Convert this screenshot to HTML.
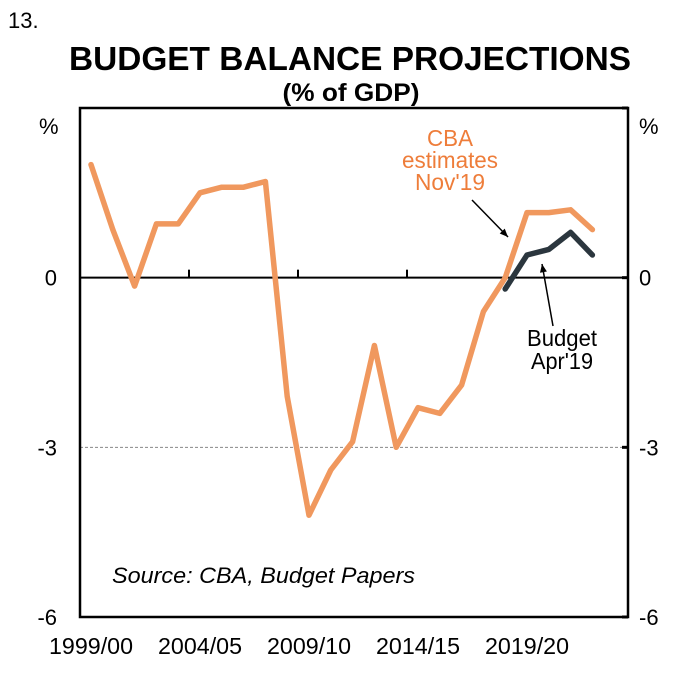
<!DOCTYPE html>
<html><head><meta charset="utf-8"><style>
body{margin:0;background:#fff;}
svg text{font-family:"Liberation Sans",Arial,sans-serif;}
</style></head><body>
<svg width="686" height="671" viewBox="0 0 686 671">
<text x="8" y="28" font-size="22">13.</text>
<text x="350" y="70" font-size="33" font-weight="bold" text-anchor="middle" textLength="562" lengthAdjust="spacingAndGlyphs">BUDGET BALANCE PROJECTIONS</text>
<text x="351" y="101" font-size="25" font-weight="bold" text-anchor="middle" textLength="137" lengthAdjust="spacingAndGlyphs">(% of GDP)</text>
<g id="chart"></g>
</svg>
<script>
const categories=["1999/00","2000/01","2001/02","2002/03","2003/04","2004/05","2005/06","2006/07","2007/08","2008/09","2009/10","2010/11","2011/12","2012/13","2013/14","2014/15","2015/16","2016/17","2017/18","2018/19","2019/20","2020/21","2021/22","2022/23","2023/24"];
const cbaValues=[2.0,0.85,-0.15,0.95,0.95,1.5,1.6,1.6,1.7,-2.1,-4.2,-3.4,-2.9,-1.2,-3.0,-2.3,-2.4,-1.9,-0.6,0.0,1.15,1.15,1.2,0.85];
const budgetValues=[null,null,null,null,null,null,null,null,null,null,null,null,null,null,null,null,null,null,null,-0.2,0.4,0.5,0.8,0.4];
const yTicks=[3,0,-3,-6];
const yTickLabels=["","0","-3","-6"];
const xLabelIdx=[0,5,10,15,20];

const NS="http://www.w3.org/2000/svg";
const L=80,R=628,T=108,B=617,yMin=-6,yMax=3;
const slot=21.8;
const x=i=>L+11+slot*i;
const y=v=>T+(yMax-v)/(yMax-yMin)*(B-T);
const g=document.getElementById('chart');
function mk(t,a,p){const e=document.createElementNS(NS,t);for(const k in a)e.setAttribute(k,a[k]);(p||g).appendChild(e);return e;}

let e=mk('line',{x1:L,x2:R,y1:y(-3),y2:y(-3),stroke:'#888','stroke-width':1,'stroke-dasharray':'3,2'});


e=mk('line',{x1:L,x2:R,y1:y(0),y2:y(0),stroke:'#000','stroke-width':2});


xLabelIdx.slice(1,4).forEach(i=>{
 const tx=x(i)-11;
 const t=mk('line',{x1:tx,x2:tx,y1:y(0),y2:y(0)-8,stroke:'#000','stroke-width':2});
 
 
});
yTicks.forEach(v=>{
 const t=mk('line',{x1:R-6,x2:R,y1:y(v),y2:y(v),stroke:'#000','stroke-width':3});
 
 
});
e=mk('rect',{x:L,y:T,width:R-L,height:B-T,fill:'none',stroke:'#000','stroke-width':2.5});


yTicks.forEach((v,i)=>{
 if(!yTickLabels[i])return;
 let a=mk('text',{x:57,y:y(v)+8,'font-size':22,'text-anchor':'end'});a.textContent=yTickLabels[i];
 
 
 let b=mk('text',{x:639,y:y(v)+8,'font-size':22});b.textContent=yTickLabels[i];
 
 
});
e=mk('text',{x:39,y:134,'font-size':22});e.textContent='%';


e=mk('text',{x:639,y:134,'font-size':22});e.textContent='%';


xLabelIdx.forEach(i=>{
 const t=mk('text',{x:x(i),y:654,'font-size':23,'text-anchor':'middle',textLength:84,lengthAdjust:'spacingAndGlyphs'});t.textContent=categories[i];
 
 
});
function line(vals,color,name){
 let d='';vals.forEach((v,i)=>{if(v===null)return;d+=(d?'L':'M')+x(i).toFixed(1)+','+y(v).toFixed(1);});
 const p=mk('path',{d:d,fill:'none',stroke:color,'stroke-width':5.5,'stroke-linejoin':'round','stroke-linecap':'round'});
 
 
}
line(cbaValues,'#f0985e','cba-series');
line(budgetValues,'#2b363e','budget-series');
const lbl=[["CBA",146,46],["estimates",168,96],["Nov'19",190,70]];
lbl.forEach(l=>{const t=mk('text',{x:450,y:l[1],'font-size':23,'text-anchor':'middle',fill:'#ee7d3a',textLength:l[2],lengthAdjust:'spacingAndGlyphs'});t.textContent=l[0];
 
 });
[["Budget",346,70],["Apr'19",369,62]].forEach(l=>{const t=mk('text',{x:562,y:l[1],'font-size':23,'text-anchor':'middle',fill:'#000',textLength:l[2],lengthAdjust:'spacingAndGlyphs'});t.textContent=l[0];
 
 });
function arrow(x1,y1,x2,y2,name){
 const a=mk('line',{x1:x1,y1:y1,x2:x2,y2:y2,stroke:'#000','stroke-width':1.5});
 
 
 const ang=Math.atan2(y2-y1,x2-x1),s=9;
 const p=[[x2,y2],[x2-s*Math.cos(ang-0.4),y2-s*Math.sin(ang-0.4)],[x2-s*Math.cos(ang+0.4),y2-s*Math.sin(ang+0.4)]];
 const h=mk('polygon',{points:p.map(q=>q.join(',')).join(' '),fill:'#000'});
 
 
}
arrow(472,200,508,237,'cba-arrow');
arrow(553,326,542,264,'budget-arrow');
e=mk('text',{x:112,y:583,'font-size':22,'font-style':'italic',textLength:303,lengthAdjust:'spacingAndGlyphs'});e.textContent='Source: CBA, Budget Papers';


</script>
</body></html>
